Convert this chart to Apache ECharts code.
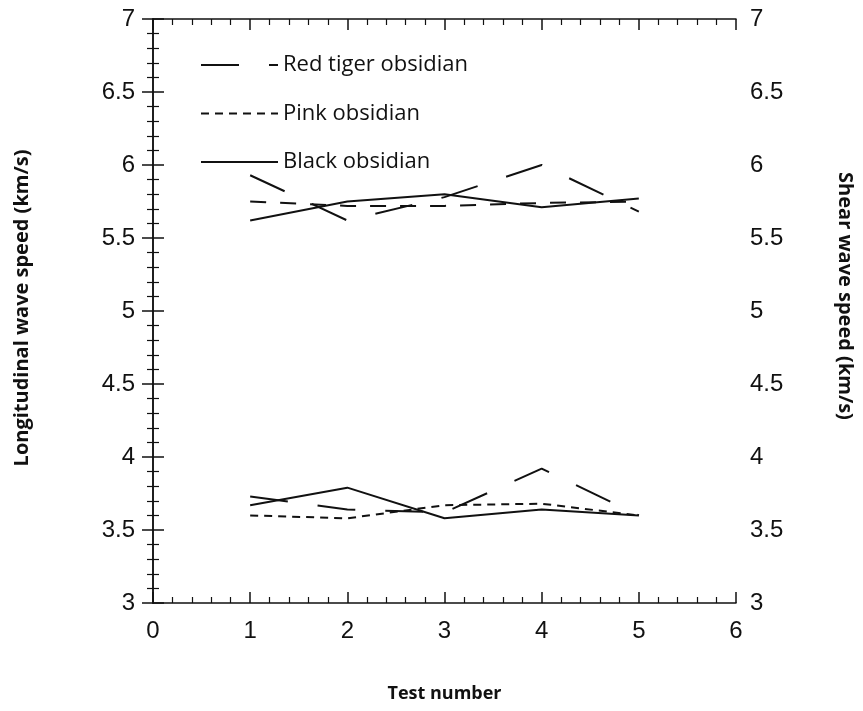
<!DOCTYPE html>
<html>
<head>
<meta charset="utf-8">
<script src="https://cdn.jsdelivr.net/npm/echarts@6/dist/echarts.min.js"></script>
<style>
html,body{margin:0;padding:0;background:#fff;}
#chart{width:863px;height:711px;}
</style>
</head>
<body>
<div id="chart"></div>
<script>
// ---- data ----
var testNumbers = [1, 2, 3, 4, 5];
var seriesNames = ['Red tiger obsidian', 'Pink obsidian', 'Black obsidian'];
// Longitudinal wave speed (km/s), left axis
var redTigerLong = [5.93, 5.62, 5.78, 6.00, 5.68];
var pinkLong     = [5.75, 5.72, 5.72, 5.74, 5.75];
var blackLong    = [5.62, 5.75, 5.80, 5.71, 5.77];
// Shear wave speed (km/s), right axis
var redTigerShear = [3.73, 3.64, 3.62, 3.92, 3.60];
var pinkShear     = [3.60, 3.58, 3.67, 3.68, 3.60];
var blackShear    = [3.67, 3.79, 3.58, 3.64, 3.60];

function pairs(vals){ return testNumbers.map(function(x,i){ return [x, vals[i]]; }); }

var styles = {
  'Red tiger obsidian': {type:[38,30], width:2},
  'Pink obsidian': {type:[8,6], width:2},
  'Black obsidian': {type:'solid', width:2}
};
function mk(name, vals, yIdx, dash){
  var st = styles[name];
  return {
    name: name, type:'line', yAxisIndex:yIdx, xAxisIndex:0,
    data: pairs(vals), symbol:'none', showSymbol:false, silent:true,
    lineStyle:{color:'#111', width:st.width, type: dash || st.type},
    itemStyle:{color:'#111'}
  };
}

var tickFont = {fontFamily:'Liberation Sans, Arial, sans-serif', fontSize:24, color:'#111'};
var nameFontV = {fontFamily:'Open Sans, sans-serif', fontSize:20, fontWeight:'bold', color:'#111'};
var nameFontH = {fontFamily:'Open Sans, sans-serif', fontSize:18, fontWeight:'bold', color:'#111'};
var axLine = {show:true, lineStyle:{color:'#111', width:1.5}};
var majorTick = {show:true, inside:true, length:11, lineStyle:{color:'#111', width:1.5}};
var minorTick = {show:true, splitNumber:5, length:6, lineStyle:{color:'#111', width:1.2}};

var chart = echarts.init(document.getElementById('chart'), null, {renderer:'canvas'});
chart.setOption({
  backgroundColor:'#fff',
  animation:false,
  grid:{left:153, right:124, top:19, bottom:108, containLabel:false},
  legend:{
    orient:'vertical', left:195, top:49, selectedMode:false,
    icon:'inherit',
    itemWidth:77, itemHeight:14, itemGap:26.5,
    itemStyle:{opacity:0},
    data: seriesNames,
    textStyle:{fontFamily:'Open Sans, sans-serif', fontSize:22, lineHeight:20, color:'#111'}
  },
  xAxis:[{
    type:'value', min:0, max:6, interval:1, position:'bottom',
    name:'Test number', nameLocation:'middle', nameGap:82, nameTextStyle:nameFontH,
    axisLine:axLine, axisTick:majorTick, minorTick:minorTick,
    axisLabel:Object.assign({margin:16}, tickFont),
    splitLine:{show:false}
  },{
    type:'value', min:0, max:6, interval:1, position:'top',
    axisLine:axLine, axisTick:majorTick, minorTick:minorTick,
    axisLabel:{show:false}, splitLine:{show:false}
  }],
  yAxis:[{
    type:'value', min:3, max:7, interval:0.5, position:'left',
    name:'Longitudinal wave speed (km/s)', nameLocation:'middle', nameGap:121,
    nameTextStyle:Object.assign({padding:[0,0,0,6]}, nameFontV),
    axisLine:axLine, axisTick:majorTick, minorTick:minorTick,
    axisLabel:Object.assign({margin:18, showMinLabel:true, showMaxLabel:true}, tickFont),
    splitLine:{show:false}
  },{
    type:'value', min:3, max:7, interval:0.5, position:'right',
    name:'Shear wave speed (km/s)', nameLocation:'middle', nameGap:99, nameRotate:-90,
    nameTextStyle:Object.assign({padding:[0,30,0,0]}, nameFontV),
    axisLine:axLine, axisTick:majorTick, minorTick:minorTick,
    axisLabel:Object.assign({margin:14, showMinLabel:true, showMaxLabel:true}, tickFont),
    splitLine:{show:false}
  }],
  series:[
    mk('Red tiger obsidian', redTigerShear, 1),
    mk('Pink obsidian', pinkShear, 1),
    mk('Black obsidian', blackShear, 1),
    mk('Red tiger obsidian', redTigerLong, 0),
    mk('Pink obsidian', pinkLong, 0, [16,14]),
    mk('Black obsidian', blackLong, 0)
  ]
});
</script>
</body>
</html>
